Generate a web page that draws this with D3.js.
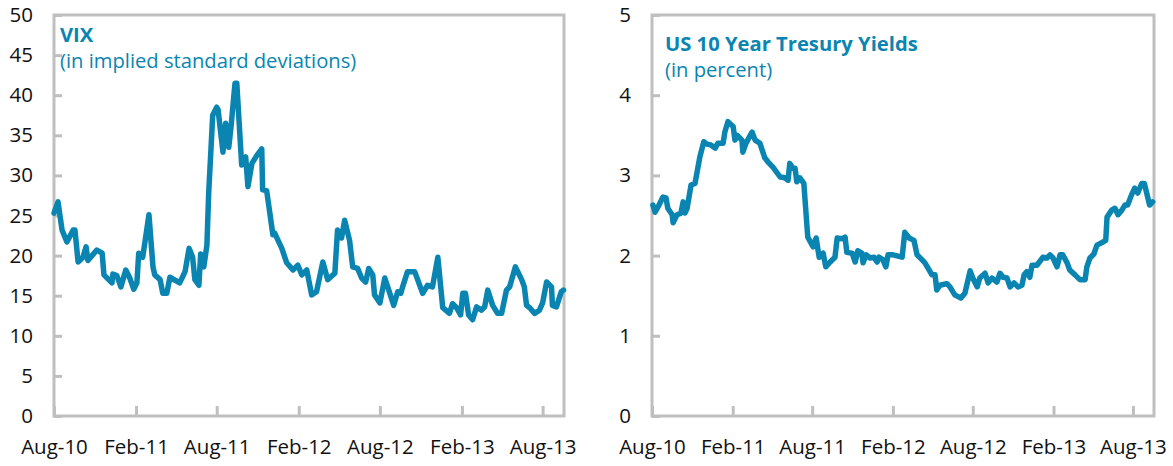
<!DOCTYPE html>
<html>
<head>
<meta charset="utf-8">
<script src="https://cdn.jsdelivr.net/npm/d3@7"></script>
<style>
  html, body { margin: 0; padding: 0; background: #fff; }
  svg { display: block; }
  text { font-family: "Open Sans", "Noto Sans", sans-serif; }
</style>
</head>
<body>
<svg id="chart" width="1173" height="466"></svg>
<script>
// ---------- DATA ----------
const vixDates = ["2010-08-01","2010-08-10","2010-08-19","2010-08-30","2010-09-13","2010-09-17","2010-09-24","2010-10-05","2010-10-12","2010-10-16","2010-11-05","2010-11-17","2010-11-21","2010-12-09","2010-12-11","2010-12-20","2010-12-29","2011-01-09","2011-01-18","2011-01-27","2011-02-03","2011-02-07","2011-02-16","2011-03-02","2011-03-11","2011-03-15","2011-03-27","2011-04-02","2011-04-11","2011-04-18","2011-05-10","2011-05-22","2011-05-31","2011-06-08","2011-06-13","2011-06-22","2011-06-26","2011-07-03","2011-07-10","2011-07-14","2011-07-23","2011-08-01","2011-08-04","2011-08-15","2011-08-21","2011-08-28","2011-09-02","2011-09-11","2011-09-15","2011-09-26","2011-10-05","2011-10-10","2011-10-19","2011-10-30","2011-11-10","2011-11-12","2011-11-21","2011-12-05","2011-12-09","2011-12-25","2012-01-05","2012-01-19","2012-01-30","2012-02-08","2012-02-19","2012-03-01","2012-03-12","2012-03-26","2012-04-06","2012-04-22","2012-04-28","2012-05-07","2012-05-14","2012-05-25","2012-06-01","2012-06-12","2012-06-21","2012-06-30","2012-07-07","2012-07-16","2012-07-20","2012-08-01","2012-08-12","2012-08-21","2012-09-01","2012-09-10","2012-09-17","2012-09-21","2012-10-02","2012-10-18","2012-11-05","2012-11-16","2012-11-27","2012-12-09","2012-12-20","2013-01-04","2013-01-11","2013-01-20","2013-01-29","2013-02-03","2013-02-09","2013-02-16","2013-02-25","2013-03-06","2013-03-17","2013-03-24","2013-03-31","2013-04-11","2013-04-22","2013-05-01","2013-05-12","2013-05-19","2013-06-01","2013-06-15","2013-06-21","2013-06-26","2013-07-03","2013-07-14","2013-07-25","2013-08-01","2013-08-10","2013-08-21","2013-08-23","2013-09-01","2013-09-12","2013-09-17"];
const vixValues = [25.3,26.7,23.2,21.7,23.2,23.2,19.2,19.8,21.1,19.4,20.7,20.3,17.6,16.6,17.7,17.5,16.1,18.2,17.2,15.8,16.6,20.3,19.8,25.1,18.6,17.6,17.0,15.3,15.3,17.3,16.6,18.0,20.9,19.8,17.0,16.3,20.2,18.6,21.3,27.8,37.5,38.5,38.2,32.9,36.5,33.5,36.0,41.5,41.5,31.3,32.3,28.6,31.5,32.5,33.3,28.2,28.1,22.6,22.8,20.9,19.1,18.2,18.8,17.6,18.2,15.1,15.5,19.2,17.0,17.8,23.2,22.2,24.4,21.9,18.6,18.4,17.2,16.7,18.4,17.6,15.1,14.1,17.2,15.7,13.8,15.5,15.3,16.1,18.0,18.0,15.3,16.3,16.1,19.8,13.5,12.8,14.0,13.5,12.6,15.3,15.3,12.6,12.0,13.6,13.2,13.6,15.7,13.8,12.8,12.8,15.7,16.1,18.6,17.0,16.1,13.8,13.5,12.8,13.2,14.1,16.7,16.1,13.8,13.6,15.5,15.7];

const ustDates = ["2010-08-03","2010-08-08","2010-08-15","2010-08-26","2010-09-02","2010-09-06","2010-09-16","2010-09-18","2010-09-27","2010-10-06","2010-10-11","2010-10-15","2010-10-20","2010-10-29","2010-11-07","2010-11-18","2010-11-27","2010-12-04","2010-12-13","2010-12-23","2010-12-29","2011-01-10","2011-01-14","2011-01-21","2011-02-02","2011-02-06","2011-02-11","2011-02-22","2011-02-24","2011-03-03","2011-03-17","2011-03-24","2011-04-04","2011-04-15","2011-04-22","2011-05-04","2011-05-20","2011-05-31","2011-06-07","2011-06-11","2011-06-18","2011-06-23","2011-06-27","2011-07-04","2011-07-13","2011-07-22","2011-08-03","2011-08-10","2011-08-17","2011-08-26","2011-09-01","2011-09-11","2011-09-22","2011-09-27","2011-10-08","2011-10-15","2011-10-19","2011-10-31","2011-11-07","2011-11-13","2011-11-22","2011-11-25","2011-12-02","2011-12-11","2011-12-20","2011-12-27","2011-12-31","2012-01-09","2012-01-16","2012-01-21","2012-02-01","2012-02-22","2012-02-28","2012-03-09","2012-03-20","2012-03-27","2012-04-07","2012-04-14","2012-04-30","2012-05-07","2012-05-11","2012-05-18","2012-06-03","2012-06-10","2012-06-21","2012-07-05","2012-07-14","2012-07-26","2012-08-01","2012-08-11","2012-08-17","2012-08-29","2012-09-05","2012-09-14","2012-09-25","2012-10-02","2012-10-09","2012-10-18","2012-10-25","2012-11-03","2012-11-12","2012-11-21","2012-11-26","2012-12-02","2012-12-09","2012-12-14","2012-12-25","2013-01-08","2013-01-17","2013-01-24","2013-01-31","2013-02-09","2013-02-16","2013-02-22","2013-03-04","2013-03-10","2013-03-22","2013-04-02","2013-04-14","2013-04-18","2013-04-25","2013-05-04","2013-05-11","2013-05-25","2013-05-31","2013-06-03","2013-06-14","2013-06-21","2013-06-28","2013-07-07","2013-07-14","2013-07-20","2013-07-29","2013-08-05","2013-08-12","2013-08-21","2013-08-27","2013-09-08","2013-09-15"];
const ustValues = [2.63,2.54,2.61,2.73,2.72,2.59,2.51,2.41,2.51,2.53,2.67,2.53,2.59,2.88,2.90,3.23,3.42,3.39,3.38,3.34,3.40,3.40,3.54,3.67,3.61,3.44,3.50,3.44,3.29,3.40,3.54,3.44,3.40,3.22,3.17,3.10,2.98,2.97,2.94,3.15,3.09,3.09,2.92,2.97,2.90,2.23,2.11,2.22,1.98,2.03,1.86,1.92,1.98,2.22,2.21,2.23,2.04,2.03,1.92,2.06,2.03,1.91,2.01,1.97,1.98,1.92,1.98,1.95,1.86,2.01,2.01,1.98,2.29,2.22,2.19,2.01,1.95,1.91,1.76,1.76,1.57,1.63,1.65,1.61,1.51,1.47,1.53,1.81,1.72,1.61,1.72,1.78,1.66,1.72,1.67,1.78,1.73,1.72,1.61,1.66,1.61,1.63,1.76,1.80,1.73,1.88,1.88,1.98,1.97,2.01,1.97,1.86,2.01,2.01,1.91,1.82,1.76,1.70,1.70,1.86,1.97,2.02,2.13,2.17,2.19,2.48,2.57,2.59,2.51,2.57,2.63,2.63,2.76,2.84,2.78,2.90,2.90,2.63,2.67];

const xTickDates = ["2010-08-01","2011-02-01","2011-08-01","2012-02-01","2012-08-01","2013-02-01","2013-08-01"];
const xTickLabels = ["Aug-10","Feb-11","Aug-11","Feb-12","Aug-12","Feb-13","Aug-13"];
const xDomain = ["2010-08-01","2013-09-18"];

const vixYTicks = [0,5,10,15,20,25,30,35,40,45,50];
const ustYTicks = [0,1,2,3,4,5];

const panels = [
  { title: "VIX", subtitle: "(in implied standard deviations)", dates: vixDates, values: vixValues, yTicks: vixYTicks, yMax: 50,
    left: 54, right: 564, titleX: 60, titleY: 42, subY: 68 },
  { title: "US 10 Year Tresury Yields", subtitle: "(in percent)", dates: ustDates, values: ustValues, yTicks: ustYTicks, yMax: 5,
    left: 652, right: 1154, titleX: 665, titleY: 51, subY: 77 }
];

// ---------- DRAW ----------
const parse = d3.timeParse("%Y-%m-%d");
const svg = d3.select("#chart");
const plotTop = 15, plotBottom = 416;
const lineColor = "#0a85b1";
const axisColor = "#bfbfbf";

panels.forEach(p => {
  const x = d3.scaleTime().domain(xDomain.map(parse)).range([p.left, p.right]);
  const y = d3.scaleLinear().domain([0, p.yMax]).range([plotBottom, plotTop]);
  const g = svg.append("g");

  g.append("rect")
    .attr("x", p.left).attr("y", plotTop)
    .attr("width", p.right - p.left).attr("height", plotBottom - plotTop)
    .attr("fill", "none").attr("stroke", axisColor).attr("stroke-width", 3);

  const ya = g.append("g").attr("transform", `translate(${p.left},0)`)
    .call(d3.axisLeft(y).tickValues(p.yTicks).tickSize(-8).tickPadding(21).tickFormat(d3.format("d")));
  ya.select(".domain").remove();
  ya.selectAll(".tick line").attr("stroke", axisColor).attr("stroke-width", 3);
  ya.selectAll(".tick text").attr("fill", "#111").style("font-size", "20.5px");

  const xa = g.append("g").attr("transform", `translate(0,${plotBottom})`)
    .call(d3.axisBottom(x).tickValues(xTickDates.map(parse)).tickSize(-10).tickPadding(23)
      .tickFormat((d, i) => xTickLabels[i]));
  xa.select(".domain").remove();
  xa.selectAll(".tick line").attr("stroke", axisColor).attr("stroke-width", 3);
  xa.selectAll(".tick text").attr("fill", "#111").style("font-size", "20.5px");

  const data = p.dates.map((d, i) => ({ date: parse(d), value: p.values[i] }));
  g.append("path").datum(data)
    .attr("fill", "none").attr("stroke", lineColor).attr("stroke-width", 5.5)
    .attr("stroke-linejoin", "round").attr("stroke-linecap", "round")
    .attr("d", d3.line().x(d => x(d.date)).y(d => y(d.value)));

  g.append("text").attr("x", p.titleX).attr("y", p.titleY)
    .attr("fill", lineColor).style("font-size", "20.2px").style("font-weight", "bold").text(p.title);
  g.append("text").attr("x", p.titleX).attr("y", p.subY)
    .attr("fill", lineColor).style("font-size", "20.2px").text(p.subtitle);
});
</script>
</body>
</html>
